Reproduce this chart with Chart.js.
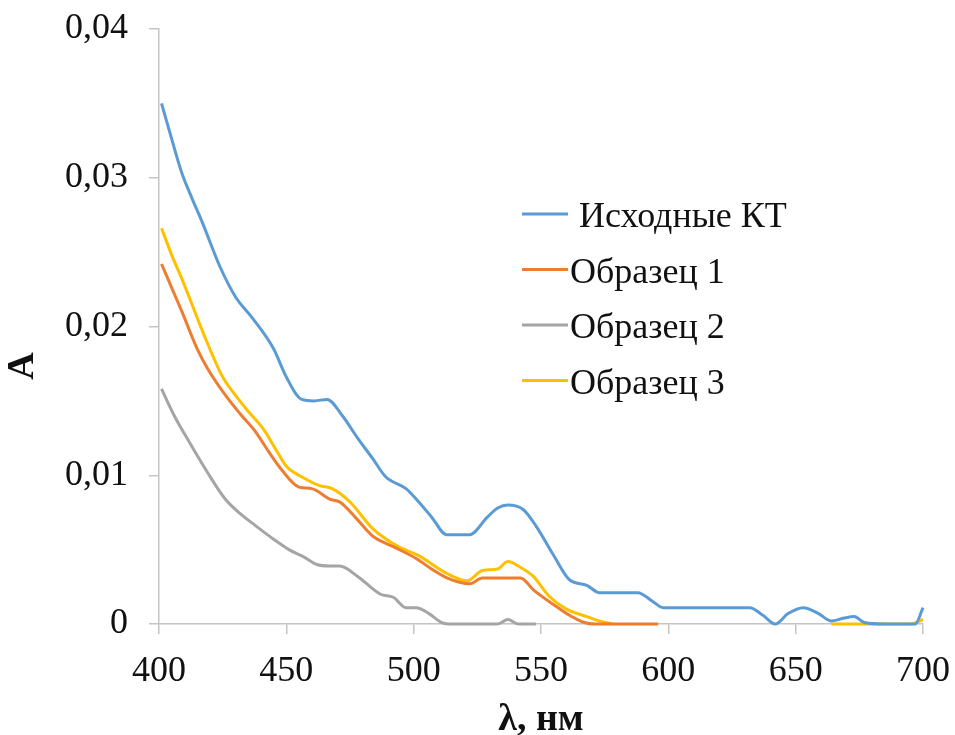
<!DOCTYPE html>
<html lang="ru">
<head>
<meta charset="utf-8">
<title>Спектры поглощения</title>
<script src="https://cdn.jsdelivr.net/npm/chart.js@4.4.1/dist/chart.umd.min.js"></script>
<style>
  html, body { margin: 0; padding: 0; background: #fff; }
  #spectraChart { display: block; }
</style>
</head>
<body>
<canvas id="spectraChart" width="955" height="735"></canvas>
<script>
// Series labels
const seriesLabels = [' Исходные КТ', 'Образец 1', 'Образец 2', 'Образец 3'];

// Исходные КТ
const sourceNm = [401, 405, 409, 413, 417, 424, 430, 437, 445, 450, 456, 461, 466, 472, 478, 484, 489, 497, 502, 507, 513, 522, 529, 533, 537, 543, 548, 555, 561, 568, 573, 588, 594, 598, 632, 637, 642, 647, 653, 659, 664, 669, 673, 677, 685, 697, 700];
const sourceA = [0.035, 0.0326, 0.0303, 0.0286, 0.027, 0.024, 0.022, 0.0205, 0.0185, 0.0166, 0.0151, 0.015, 0.0151, 0.014, 0.0125, 0.0111, 0.0099, 0.0091, 0.0082, 0.0072, 0.006, 0.006, 0.0072, 0.0078, 0.008, 0.0077, 0.0066, 0.0046, 0.003, 0.0026, 0.0021, 0.0021, 0.0015, 0.0011, 0.0011, 0.0006, 0, 0.0007, 0.0011, 0.0007, 0.0002, 0.0004, 0.0005, 0.0001, 0, 0, 0.0011];

// Образец 1
const sample1Nm = [401, 405, 409, 415, 419, 426, 432, 438, 443, 448, 455, 460, 467, 471, 478, 484, 492, 501, 507, 513, 522, 527, 542, 547, 555, 561, 567, 571, 596];
const sample1A = [0.0242, 0.0226, 0.021, 0.0185, 0.0172, 0.0154, 0.0141, 0.0129, 0.0116, 0.0104, 0.0092, 0.0091, 0.0084, 0.0082, 0.007, 0.0059, 0.0052, 0.0044, 0.0037, 0.0031, 0.0027, 0.0031, 0.0031, 0.0023, 0.0013, 0.0006, 0.0001, 0, 0];

// Образец 2
const sample2Nm = [401, 406, 412, 419, 426, 432, 438, 445, 451, 457, 462, 467, 471, 478, 487, 492, 497, 501, 506, 511, 515, 533, 537, 541, 548];
const sample2A = [0.0158, 0.014, 0.0122, 0.0102, 0.0084, 0.0074, 0.0066, 0.0057, 0.005, 0.0045, 0.004, 0.0039, 0.0039, 0.0032, 0.002, 0.0018, 0.0011, 0.0011, 0.0007, 0.0001, 0, 0, 0.0003, 0, 0];

// Образец 3 (null = below the axis, not shown)
const sample3Nm = [401, 405, 409, 418, 425, 429, 435, 441, 446, 450, 456, 463, 468, 475, 484, 494, 502, 510, 513, 521, 527, 533, 537, 542, 547, 553, 560, 568, 573, 578, 620, 664, 695, 700];
const sample3A = [0.0266, 0.0248, 0.0232, 0.0193, 0.0166, 0.0156, 0.0143, 0.0131, 0.0117, 0.0106, 0.0099, 0.0093, 0.0091, 0.0082, 0.0064, 0.0052, 0.0046, 0.0037, 0.0034, 0.0029, 0.0036, 0.0037, 0.0042, 0.0038, 0.0032, 0.0019, 0.001, 0.0005, 0.0002, 0, null, 0, 0, 0.0003];

// Tick labels
const xTickLabels = ['400', '450', '500', '550', '600', '650', '700'];
const yTickLabels = ['0', '0,01', '0,02', '0,03', '0,04'];

const seriesColors = ['#5B9BD5', '#ED7D31', '#A5A5A5', '#FFC000'];
const serif = '"Liberation Serif", "Times New Roman", serif';
const axisColor = '#C4C4C4';
const textColor = '#111111';

function toPoints(xs, ys) {
    return xs.map((x, i) => ({ x: x, y: ys[i] }));
}

function makeDataset(index, xs, ys) {
    return {
        label: seriesLabels[index],
        data: toPoints(xs, ys),
        borderColor: seriesColors[index],
        backgroundColor: seriesColors[index],
        borderWidth: 3,
        pointRadius: 0,
        cubicInterpolationMode: 'monotone',
        spanGaps: false,
        clip: 4
    };
}

// Legend drawn inside the plot area, like the original
const insideLegend = {
    id: 'insideLegend',
    afterDatasetsDraw(chart) {
        const ctx = chart.ctx;
        ctx.save();
        ctx.font = '36px ' + serif;
        ctx.textBaseline = 'middle';
        ctx.fillStyle = textColor;
        chart.data.datasets.forEach((ds, i) => {
            const y = 214 + i * 55.5;
            ctx.strokeStyle = ds.borderColor;
            ctx.lineWidth = 3;
            ctx.beginPath();
            ctx.moveTo(522, y);
            ctx.lineTo(568, y);
            ctx.stroke();
            ctx.fillText(ds.label, 570, y + 4);
        });
        ctx.restore();
    }
};

// Rotated y axis title placed as in the original
const yTitle = {
    id: 'yTitle',
    afterDraw(chart) {
        const ctx = chart.ctx;
        ctx.save();
        ctx.translate(23, 366);
        ctx.rotate(-Math.PI / 2);
        ctx.font = 'bold 38px ' + serif;
        ctx.fillStyle = textColor;
        ctx.textAlign = 'center';
        ctx.textBaseline = 'middle';
        ctx.fillText('A', 0, 0);
        ctx.restore();
    }
};

const ctx = document.getElementById('spectraChart').getContext('2d');

new Chart(ctx, {
    type: 'line',
    data: {
        datasets: [
            makeDataset(0, sourceNm, sourceA),
            makeDataset(1, sample1Nm, sample1A),
            makeDataset(2, sample2Nm, sample2A),
            makeDataset(3, sample3Nm, sample3A)
        ]
    },
    options: {
        responsive: false,
        devicePixelRatio: 1,
        animation: false,
        layout: {
            padding: { top: 29, right: 32, left: 0, bottom: 0 }
        },
        plugins: {
            legend: { display: false },
            tooltip: { enabled: false }
        },
        scales: {
            x: {
                type: 'linear',
                min: 400,
                max: 700,
                afterFit: scale => {
                    scale.height = 111;
                    scale.paddingLeft = 0;
                    scale.paddingRight = 0;
                },
                afterBuildTicks: scale => {
                    scale.ticks = xTickLabels.map(t => ({ value: Number(t) }));
                },
                ticks: {
                    autoSkip: false,
                    maxRotation: 0,
                    padding: 16,
                    color: textColor,
                    font: { family: serif, size: 36 },
                    callback: (value, index) => xTickLabels[index]
                },
                grid: {
                    drawOnChartArea: false,
                    tickLength: 10,
                    color: axisColor,
                    lineWidth: 1.5
                },
                border: { color: axisColor, width: 1.5 },
                title: {
                    display: true,
                    text: 'λ, нм',
                    color: textColor,
                    font: { family: serif, size: 38, weight: 'bold' },
                    padding: { top: 0, bottom: -8 }
                }
            },
            y: {
                min: 0,
                max: 0.04,
                afterFit: scale => {
                    scale.width = 159;
                    scale.paddingTop = 0;
                    scale.paddingBottom = 0;
                },
                ticks: {
                    stepSize: 0.01,
                    padding: 21,
                    color: textColor,
                    font: { family: serif, size: 36 },
                    callback: (value, index) => yTickLabels[index]
                },
                grid: {
                    drawOnChartArea: false,
                    tickLength: 10,
                    color: axisColor,
                    lineWidth: 1.5
                },
                border: { color: axisColor, width: 1.5 }
            }
        }
    },
    plugins: [insideLegend, yTitle]
});
</script>
</body>
</html>
